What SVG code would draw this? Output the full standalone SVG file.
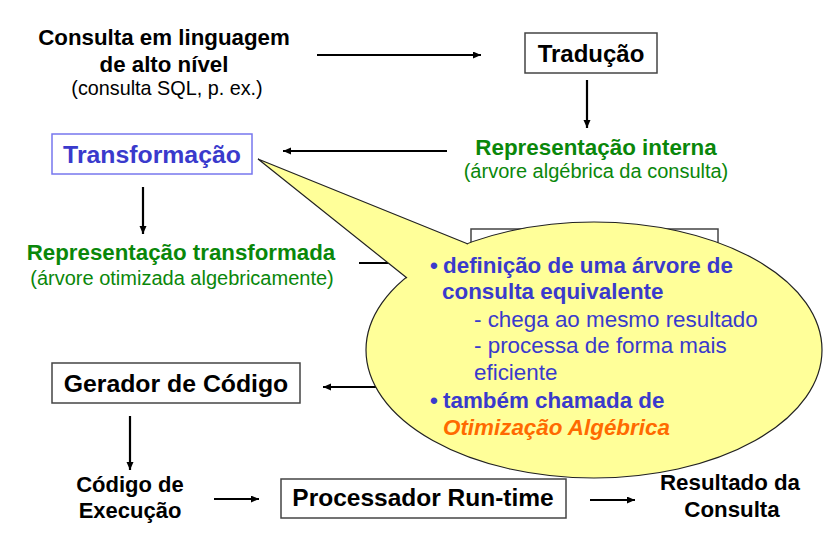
<svg xmlns="http://www.w3.org/2000/svg" width="837" height="535" viewBox="0 0 837 535">
<style>
text{font-family:"Liberation Sans",Arial,sans-serif}
.b{font-weight:bold}
.blk{fill:#000}
.grn{fill:#0a870a}
.blu{fill:#3a3acc}
.org{fill:#ff6a00}
.box{fill:#fff;stroke:#444;stroke-width:1.5}
.line{stroke:#000;stroke-width:2.2;fill:none}
.cl{font-size:22.4px}
</style>
<defs>
<marker id="ah" markerUnits="userSpaceOnUse" markerWidth="9" markerHeight="8" refX="8" refY="3.5" orient="auto">
<path d="M0,0 L8,3.5 L0,7 z" fill="#000"/>
</marker>
</defs>
<rect width="837" height="535" fill="#fff"/>

<g id="connectors">
<path class="line" d="M317,55 H481" marker-end="url(#ah)"/>
<path class="line" d="M587,80 V128" marker-end="url(#ah)"/>
<path class="line" d="M447,151 H283" marker-end="url(#ah)"/>
<path class="line" d="M143,187 V234" marker-end="url(#ah)"/>
<path class="line" d="M359,263 H468" marker-end="url(#ah)"/>
<path class="line" d="M470,387 H323" marker-end="url(#ah)"/>
<path class="line" d="M130,416 V470" marker-end="url(#ah)"/>
<path class="line" d="M214,499 H259" marker-end="url(#ah)"/>
<path class="line" d="M590,500 H635" marker-end="url(#ah)"/>
</g>

<g id="consulta">
<text class="b blk" x="164" y="45" font-size="22.3" text-anchor="middle">Consulta em linguagem</text>
<text class="b blk" x="164" y="72" font-size="22.3" text-anchor="middle">de alto nível</text>
<text class="blk" x="167" y="95" font-size="19.8" text-anchor="middle">(consulta SQL, p. ex.)</text>
</g>

<g id="traducao">
<rect class="box" x="525" y="33" width="132" height="40"/>
<text class="b blk" x="591" y="62" font-size="24" text-anchor="middle">Tradução</text>
</g>

<g id="rep-interna">
<text class="b grn" x="596" y="155" font-size="22.4" text-anchor="middle">Representação interna</text>
<text class="grn" x="596" y="178" font-size="20" text-anchor="middle">(árvore algébrica da consulta)</text>
</g>

<g id="transformacao">
<rect x="52" y="134" width="200" height="40" fill="#fff" stroke="#7777ee" stroke-width="1.5"/>
<text class="b blu" x="152" y="163" font-size="24.8" text-anchor="middle">Transformação</text>
</g>

<g id="rep-transformada">
<text class="b grn" x="181" y="260" font-size="22.3" text-anchor="middle">Representação transformada</text>
<text class="grn" x="182" y="285" font-size="20" text-anchor="middle">(árvore otimizada algebricamente)</text>
</g>

<g id="hidden-box">
<rect class="box" x="471" y="229" width="247" height="50"/>
</g>

<g id="gerador">
<rect class="box" x="52" y="363" width="248" height="40"/>
<text class="b blk" x="176" y="392" font-size="24.8" text-anchor="middle">Gerador de Código</text>
</g>

<g id="codigo">
<text class="b blk" x="130" y="492" font-size="22" text-anchor="middle">Código de</text>
<text class="b blk" x="130" y="518" font-size="22" text-anchor="middle">Execução</text>
</g>

<g id="processador">
<rect class="box" x="281" y="479" width="285" height="39"/>
<text class="b blk" x="423" y="506" font-size="24.5" text-anchor="middle">Processador Run-time</text>
</g>

<g id="resultado">
<text class="b blk" x="730" y="490" font-size="22.3" text-anchor="middle">Resultado da</text>
<text class="b blk" x="732" y="517" font-size="22.3" text-anchor="middle">Consulta</text>
</g>

<g id="callout">
<ellipse cx="594" cy="350" rx="228" ry="128" fill="#ffff99" stroke="#222" stroke-width="1.2"/>
<path d="M468,244 L258,159 L407,278" fill="#ffff99" stroke="#222" stroke-width="1.2" stroke-linejoin="miter"/>
<text class="b blu cl" x="430" y="273">•</text>
<text class="b blu cl" x="443" y="273">definição de uma árvore de</text>
<text class="b blu cl" x="442" y="299">consulta equivalente</text>
<text class="blu cl" x="474" y="327">- chega ao mesmo resultado</text>
<text class="blu cl" x="474" y="353">- processa de forma mais</text>
<text class="blu cl" x="474" y="380">eficiente</text>
<text class="b blu cl" x="430" y="408">•</text>
<text class="b blu cl" x="443" y="408">também chamada de</text>
<text class="b org cl" x="443" y="435" font-style="italic">Otimização Algébrica</text>
</g>
</svg>
